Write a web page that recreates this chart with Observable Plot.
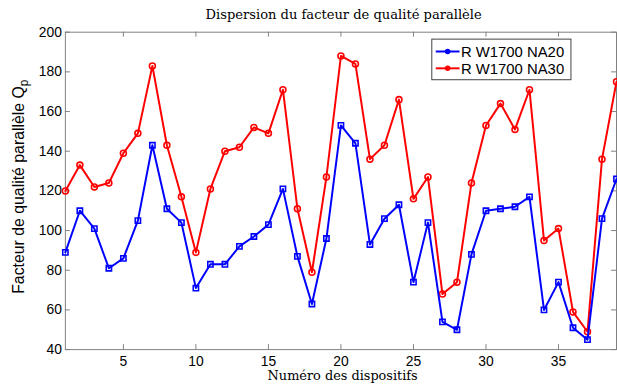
<!DOCTYPE html>
<html>
<head>
<meta charset="utf-8">
<script src="https://cdn.jsdelivr.net/npm/d3@7"></script>
<script src="https://cdn.jsdelivr.net/npm/@observablehq/plot@0.6"></script>
<style>
  html, body { margin: 0; padding: 0; background: #fff; width: 617px; height: 389px; overflow: hidden; }
  #chart svg { display: block; overflow: hidden; }
</style>
</head>
<body>
<div id="chart"></div>
<script>
const devices = [1,2,3,4,5,6,7,8,9,10,11,12,13,14,15,16,17,18,19,20,21,22,23,24,25,26,27,28,29,30,31,32,33,34,35,36,37,38,39];
const na20 = [89,110,101,81,86,105,143,111,104,71,83,83,92,97,103,121,87,63,96,153,144,93,106,113,74,104,54,50,88,110,111,112,117,60,74,51,45,106,126];
const na30 = [120,133,122,124,139,149,183,143,117,89,121,140,142,152,149,171,111,79,127,188,184,136,143,166,116,127,68,74,124,153,164,151,171,95,101,59,49,136,175];
const xTicks = [5,10,15,20,25,30,35];
const yTicks = [40,60,80,100,120,140,160,180,200];
const seriesNames = ["R W1700 NA20", "R W1700 NA30"];
const titleText = "Dispersion du facteur de qualité parallèle";
const xLabel = "Numéro des dispositifs";
const yLabel = "Facteur de qualité parallèle Q";
const yLabelSub = "p";

const blueData = devices.map((d, i) => ({x: d, y: na20[i]}));
const redData = devices.map((d, i) => ({x: d, y: na30[i]}));

const W = 623, H = 389;
const mL = 65.5, mR = 1, mT = 32, mB = 36.5;
const innerH = H - mT - mB;
const innerW = W - mL - mR;
const axisColor = "#808080";
const tickLen = 5;

const chart = Plot.plot({
  width: W,
  height: H,
  marginLeft: mL,
  marginRight: mR,
  marginTop: mT,
  marginBottom: mB,
  style: {fontFamily: "'Liberation Sans', Arial, sans-serif", fontSize: "14px", color: "#000", background: "#fff"},
  x: {domain: [1, 39], label: null},
  y: {domain: [40, 200], label: null},
  marks: [
    Plot.frame({stroke: axisColor, strokeWidth: 1}),
    Plot.tickX(xTicks, {x: d => d, insetTop: innerH - tickLen, stroke: axisColor}),
    Plot.tickX(xTicks, {x: d => d, insetBottom: innerH - tickLen, stroke: axisColor}),
    Plot.tickY(yTicks, {y: d => d, insetRight: innerW - tickLen, stroke: axisColor}),
    Plot.tickY(yTicks, {y: d => d, insetLeft: innerW - tickLen, stroke: axisColor}),
    Plot.axisX({ticks: xTicks, tickSize: 0, tickPadding: 7, label: null, fontSize: 14}),
    Plot.axisY({ticks: yTicks, tickSize: 0, tickPadding: 3.5, label: null, fontSize: 14}),
    Plot.line(redData, {x: "x", y: "y", stroke: "#ff0000", strokeWidth: 2}),
    Plot.dot(redData, {x: "x", y: "y", stroke: "#ff0000", r: 3, strokeWidth: 1.6, fill: "none"}),
    Plot.line(blueData, {x: "x", y: "y", stroke: "#0000ff", strokeWidth: 2}),
    Plot.dot(blueData, {x: "x", y: "y", stroke: "#0000ff", symbol: "square", r: 3, strokeWidth: 1.6, fill: "none"})
  ]
});
document.getElementById("chart").appendChild(chart);

const svg = d3.select(chart);
// title
svg.append("text")
  .attr("x", 347).attr("y", 19)
  .attr("text-anchor", "middle")
  .style("font-family", "'DejaVu Serif', 'Liberation Serif', serif")
  .style("font-size", "13.2px")
  .attr("fill", "#000")
  .text(titleText);
// x label
svg.append("text")
  .attr("x", 346).attr("y", 384)
  .attr("text-anchor", "middle")
  .style("font-family", "'DejaVu Serif', 'Liberation Serif', serif")
  .style("font-size", "13px")
  .attr("fill", "#000")
  .text(xLabel);
// y label
const yl = svg.append("text")
  .attr("transform", "translate(24,188.5) rotate(-90)")
  .attr("text-anchor", "middle")
  .style("font-family", "'Liberation Sans', Arial, sans-serif")
  .style("font-size", "16px")
  .attr("fill", "#000");
yl.append("tspan").text(yLabel);
yl.append("tspan").attr("dy", 4).style("font-size", "12px").text(yLabelSub);

// legend
const lg = svg.append("g").attr("transform", "translate(436,39.5)");
lg.append("rect").attr("width", 140.5).attr("height", 41).attr("fill", "#fff").attr("stroke", "#404040").attr("stroke-width", 1);
const legendItems = [
  {name: seriesNames[0], color: "#0000ff", y: 12.5},
  {name: seriesNames[1], color: "#ff0000", y: 29.5}
];
legendItems.forEach(it => {
  lg.append("line").attr("x1", 4).attr("x2", 28).attr("y1", it.y).attr("y2", it.y).attr("stroke", it.color).attr("stroke-width", 2);
  lg.append("circle").attr("cx", 16).attr("cy", it.y).attr("r", 2.8).attr("fill", it.color);
  lg.append("text").attr("x", 29.5).attr("y", it.y + 5.3)
    .attr("text-anchor", "start")
    .style("font-family", "'Liberation Sans', Arial, sans-serif")
    .style("font-size", "15px").attr("fill", "#000").text(it.name);
});
</script>
</body>
</html>
